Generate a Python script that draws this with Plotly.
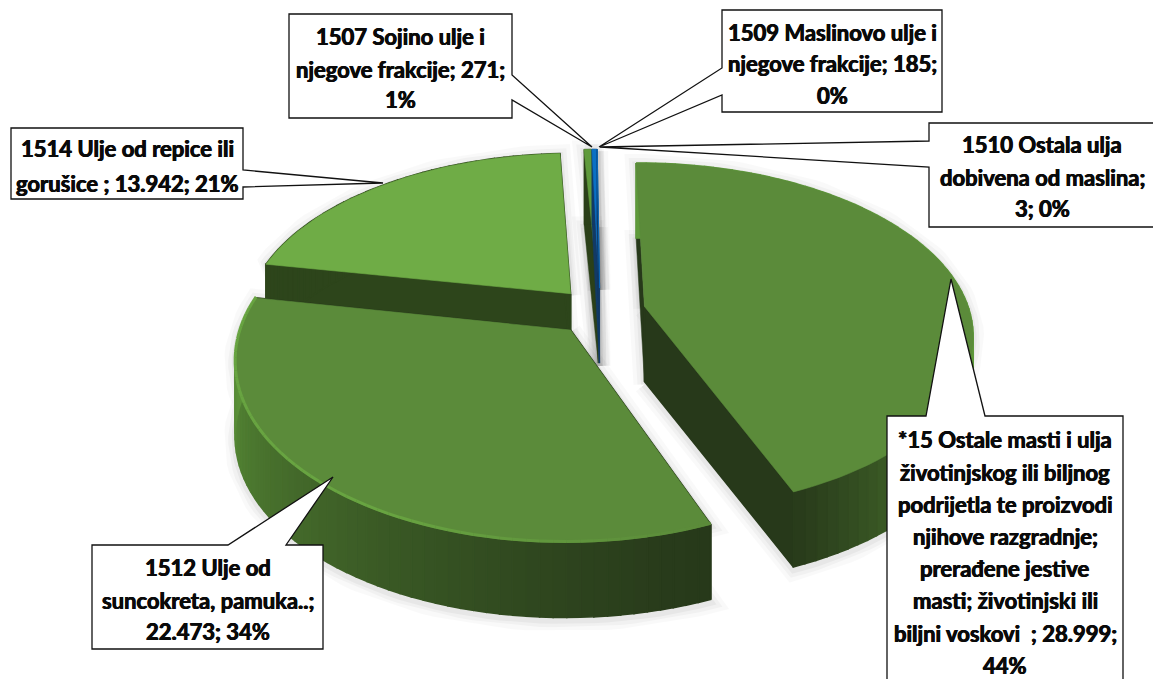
import math
import plotly.graph_objects as go

# ---- data ----
categories = ["*15 Ostale masti", "1512 Ulje od suncokreta", "1514 Ulje od repice",
              "1507 Sojino ulje", "1509 Maslinovo ulje", "1510 Ostala ulja"]
values = [28999, 22473, 13942, 271, 185, 3]
slice_colors = ["#5b8b3a", "#5b8b3a", "#6fac46", "#5f9a3b", "#0a70c4", "#0a70c4"]
cut_colors = ["#27391a", "#27391a", "#2d451b", "#2b4019", "#123a66", "#123a66"]

callout_lines = [
    ["*15 Ostale masti i ulja", "životinjskog ili biljnog", "podrijetla te proizvodi",
     "njihove razgradnje;", "prerađene jestive", "masti; životinjski ili",
     "biljni voskovi  ; 28.999;", "44%"],
    ["1512 Ulje od", "suncokreta, pamuka..;", "22.473; 34%"],
    ["1514 Ulje od repice ili", "gorušice ; 13.942; 21%"],
    ["1507 Sojino ulje i", "njegove frakcije; 271;", "1%"],
    ["1509 Maslinovo ulje i", "njegove frakcije; 185;", "0%"],
    ["1510 Ostala ulja", "dobivena od maslina;", "3; 0%"],
]

# ---- layout of the drawing (pixels of the 1153x679 frame) ----
CX, CY, RX, RY_FRONT, RY_BACK, PERSP, EXPLODE, DEPTH = 600, 311, 325, 173, 167, 0.155, 0.14, 75
START_ANGLE = -0.5
FONT = "Lato"
FS = 22

callout_geom = [
    dict(box=(887, 416, 1123, 700), side="top", ptr=[(926, 416), (951, 279), (985, 416)],
         cx=1005, ys=[439, 472, 504, 536, 568, 600, 633, 665]),
    dict(box=(92, 545, 323, 649), side="top", ptr=[(228, 545), (333, 477), (286, 545)],
         cx=208, ys=[567, 600, 631]),
    dict(box=(11, 128, 243, 199), side="right", ptr=[(243, 170), (383, 183), (243, 187)],
         cx=127, ys=[148, 183]),
    dict(box=(289, 14, 512, 118), side="right", ptr=[(512, 75), (592, 147), (512, 100)],
         cx=400, ys=[36, 69, 99]),
    dict(box=(722, 10, 942, 112), side="left", ptr=[(722, 68), (599, 147), (722, 95)],
         cx=832, ys=[32, 63, 95]),
    dict(box=(929, 123, 1170, 227), side="left", ptr=[(929, 141), (600, 147), (929, 167)],
         cx=1042, ys=[144, 177, 208]),
]


def project(u, v):
    d = 1 + PERSP * v
    ry = RY_BACK if v > 0 else RY_FRONT
    return CX + RX * u / d, CY - ry * v / d


def mix(c1, c2, t):
    a = [int(c1[i:i + 2], 16) for i in (1, 3, 5)]
    b = [int(c2[i:i + 2], 16) for i in (1, 3, 5)]
    t = max(0, min(1, t))
    return "rgb(%d,%d,%d)" % tuple(round(x + (y - x) * t) for x, y in zip(a, b))


total = sum(values)
slices = []
a0 = START_ANGLE
for val in values:
    sweep = 360.0 * val / total
    a1 = a0 + sweep
    mid = math.radians((a0 + a1) / 2)
    ox, oy = EXPLODE * math.sin(mid), EXPLODE * math.cos(mid)
    n = max(2, int(sweep / 2) + 2)
    angs = [a0 + (a1 - a0) * i / (n - 1) for i in range(n)]
    rim = [project(ox + math.sin(math.radians(t)), oy + math.cos(math.radians(t))) for t in angs]
    slices.append(dict(apex=project(ox, oy), angs=angs, rim=rim, a0=a0, a1=a1))
    a0 = a1

fig = go.Figure()


def poly(xs, ys, color, lw=1.6):
    fig.add_trace(go.Scatter(x=list(xs) + [xs[0]], y=list(ys) + [ys[0]], mode="lines", fill="toself",
                             fillcolor=color, line=dict(color=color, width=lw),
                             hoverinfo="skip", showlegend=False))


def wall(p, q, color, lw=1.6):
    poly([p[0], q[0], q[0], p[0]], [p[1], q[1], q[1] + DEPTH, p[1] + DEPTH], color, lw)


def rim_shade(t):
    """wall colour along the rim, by angle"""
    if t <= 158.6:
        return mix("#27391a", "#5f9a3b", (158.6 - t) / 55)
    return mix("#27391a", "#5b9238", ((t - 158.6) / 112) ** 1.25)


# soft shadows first
for s in slices:
    pts = [s["apex"]] + s["rim"] + [s["apex"]]
    for w, alpha in ((22, 0.022), (14, 0.03), (7, 0.04)):
        for dy in (DEPTH + 3, 2):
            fig.add_trace(go.Scatter(x=[p[0] for p in pts], y=[p[1] + dy for p in pts], mode="lines",
                                     line=dict(color="rgba(0,0,0,%.3f)" % alpha, width=w),
                                     hoverinfo="skip", showlegend=False))

# painter order: back to front
for i in [2, 3, 4, 5, 0, 1]:
    s = slices[i]
    apex, rim, angs = s["apex"], s["rim"], s["angs"]
    lw = 1.6 if i < 3 else 0.4
    wall(apex, rim[0], cut_colors[i], 0.5 if i == 0 else lw)
    wall(apex, rim[-1], cut_colors[i], lw)
    for k in range(len(rim) - 1):
        wall(rim[k], rim[k + 1], rim_shade((angs[k] + angs[k + 1]) / 2) if i < 2 else cut_colors[i], lw)
    xs = [apex[0]] + [p[0] for p in rim]
    ys = [apex[1]] + [p[1] for p in rim]
    poly(xs, ys, slice_colors[i], 0.6)
    if i == 1:
        for k in range(len(rim) - 1):
            t = (angs[k] - angs[0]) / (angs[-1] - angs[0])
            fig.add_trace(go.Scatter(x=[rim[k][0], rim[k + 1][0]], y=[rim[k][1] - 1, rim[k + 1][1] - 1],
                                     mode="lines",
                                     line=dict(color=mix("#5b8b3a", "#68a441", min(1, t * 2.5)), width=3),
                                     hoverinfo="skip", showlegend=False))

shapes = []
annotations = []
for g, lines in zip(callout_geom, callout_lines):
    x0, y0, x1, y1 = g["box"]
    if g["side"] == "top":
        pts = [(x0, y0)] + g["ptr"] + [(x1, y0), (x1, y1), (x0, y1)]
    elif g["side"] == "right":
        pts = [(x0, y0), (x1, y0)] + g["ptr"] + [(x1, y1), (x0, y1)]
    else:
        pts = [(x0, y0), (x1, y0), (x1, y1), (x0, y1)] + g["ptr"][::-1]
    path = "M " + " L ".join("%g,%g" % p for p in pts) + " Z"
    shapes.append(dict(type="path", path=path, xref="x", yref="y", fillcolor="white",
                       line=dict(color="#111111", width=1.3)))
    for txt, y in zip(lines, g["ys"]):
        annotations.append(dict(x=g["cx"], y=y, xref="x", yref="y", text=txt,
                                showarrow=False, xanchor="center", yanchor="middle",
                                font=dict(family=FONT + ", sans-serif", size=FS, color="#0a0a0a",
                                          weight=700,
                                          shadow="0.45px 0 0 #0a0a0a, -0.45px 0 0 #0a0a0a")))

fig.update_layout(
    width=1153, height=679, margin=dict(l=0, r=0, t=0, b=0),
    paper_bgcolor="white", plot_bgcolor="white", showlegend=False,
    xaxis=dict(range=[0, 1153], visible=False, fixedrange=True),
    yaxis=dict(range=[679, 0], visible=False, fixedrange=True),
    shapes=shapes, annotations=annotations, hovermode=False,
)
fig.write_html("out.html", config=dict(displayModeBar=False),
               post_script="document.body.style.margin='0';")
